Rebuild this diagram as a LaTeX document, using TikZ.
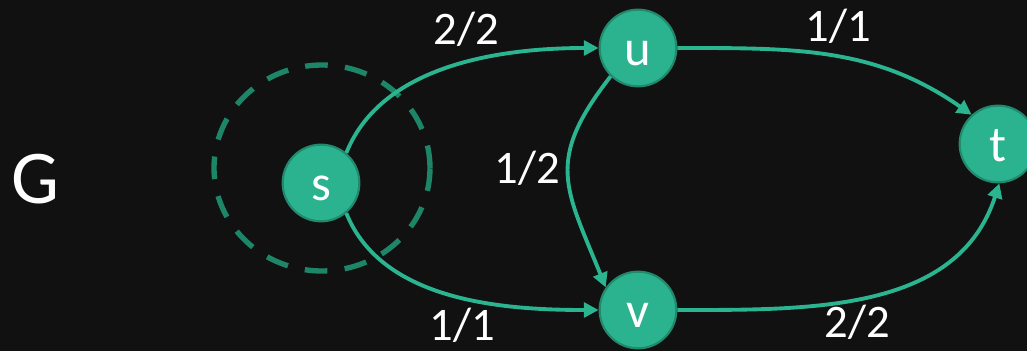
\documentclass[tikz,border=0pt]{standalone}
\usepackage{fontspec}
\setmainfont{Carlito}
\usetikzlibrary{arrows.meta}
\definecolor{bg}{RGB}{17,17,17}
\definecolor{nodefill}{RGB}{43,178,142}
\definecolor{nodeline}{RGB}{34,138,108}
\definecolor{edgecol}{RGB}{43,180,144}
\definecolor{dashcol}{RGB}{30,134,104}
\begin{document}
\begin{tikzpicture}[x=0.75pt,y=0.75pt,
  vert/.style={circle,fill=nodefill,draw=nodeline,line width=1.6pt,inner sep=0pt,
    minimum size=57.5pt,text=white,font=\fontsize{38}{44}\selectfont,
    text height=25.8pt,text depth=0pt},
  flow/.style={draw=edgecol,line width=2.9pt,-{Triangle[length=11pt,width=11pt]}},
  lbl/.style={text=white,anchor=base,inner sep=0pt,font=\fontsize{35}{42}\selectfont}]
\fill[bg] (0,0) rectangle (1027,351);
\useasboundingbox (0,0) rectangle (1027,351);
% cut around s
\draw[dashcol,line width=4pt,dash pattern=on 17pt off 13pt] (322,183) ellipse [x radius=108, y radius=103];
\node[vert] (s) at (321,168) {s};
\node[vert] (u) at (638,303) {u};
\node[vert] (v) at (638,41) {v};
\node[vert] (t) at (998,207) {t};
\node[text=white,anchor=base,inner sep=0pt,font=\fontsize{57}{66}\selectfont] (G) at (35,148) {G};
\draw[flow] (s.50) to[out=68,in=180,looseness=0.9] (u.west);
\draw[flow] (s.-50) to[out=-68,in=180,looseness=0.9] (v.west);
\draw[flow] (u.east) to[out=0,in=145] (t.132);
\draw[flow] (v.east) to[out=0,in=252] (t.-88);
\draw[flow] (u.226) to[out=232,in=112,looseness=1.3] (v.145);
\node[lbl] (l1) at (466,306) {2/2};
\node[lbl] (l2) at (838,309) {1/1};
\node[lbl] (l3) at (527,168) {1/2};
\node[lbl] (l4) at (462,11) {1/1};
\node[lbl] (l5) at (857,14) {2/2};
\end{tikzpicture}
\end{document}
